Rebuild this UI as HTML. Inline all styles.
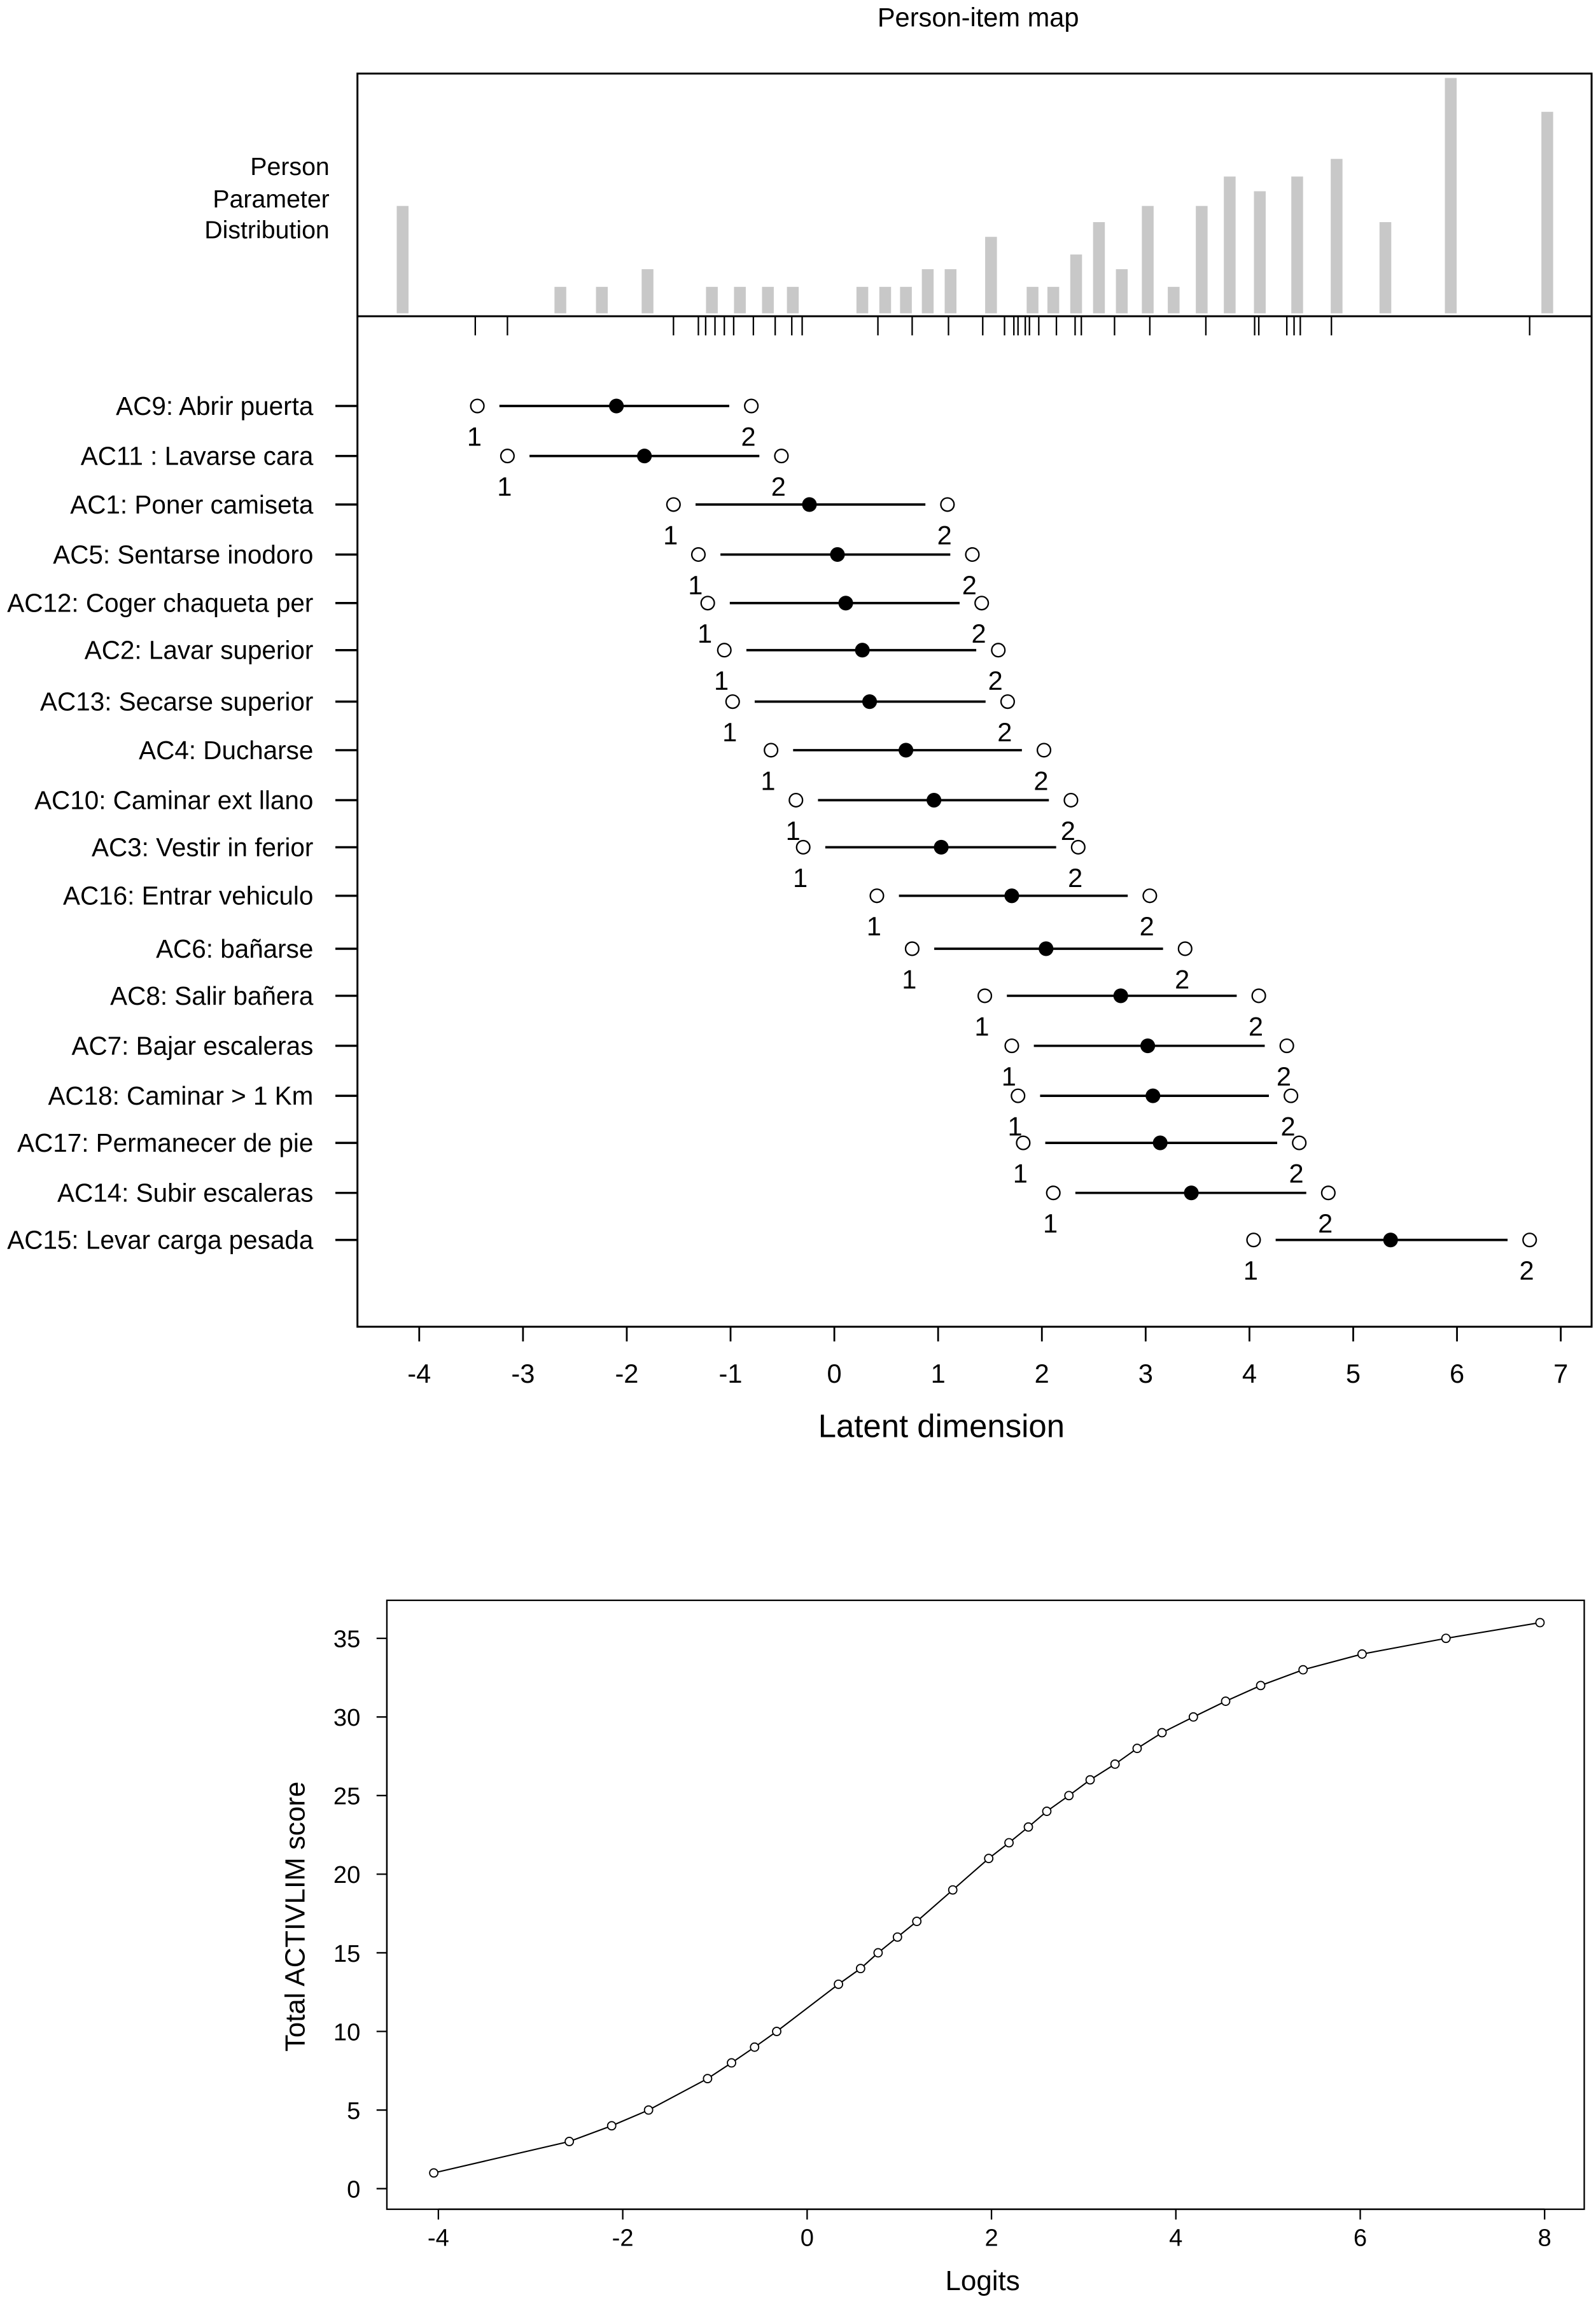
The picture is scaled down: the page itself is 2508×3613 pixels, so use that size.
<!DOCTYPE html>
<html><head><meta charset="utf-8">
<style>html,body{margin:0;padding:0;background:#fff}svg{display:block}text{font-family:"Liberation Sans",sans-serif;fill:#000}</style>
</head><body>
<svg id="fig" xmlns="http://www.w3.org/2000/svg" width="2508" height="3613" viewBox="0 0 1085 1563">
<rect x="0" y="0" width="1085" height="1563" fill="#fff"/>
<text x="665" y="18" font-size="18" text-anchor="middle">Person-item map</text>
<rect x="243" y="50" width="839" height="852" fill="none" stroke="#000" stroke-width="1.3"/>
<line x1="243" y1="215" x2="1082" y2="215" stroke="#000" stroke-width="1.3"/>
<text font-size="17" text-anchor="end"><tspan x="224" y="119">Person</tspan><tspan x="224" y="141">Parameter</tspan><tspan x="224" y="162">Distribution</tspan></text>
<g id="hist"></g><g id="rug"></g><g id="items"></g><g id="xaxis"></g>
<text x="640" y="977" font-size="22" text-anchor="middle">Latent dimension</text>

<rect x="263" y="1088" width="814" height="414" fill="none" stroke="#000" stroke-width="1"/>
<g id="curve"></g><g id="axes2"></g>
<text transform="translate(207,1303) rotate(-90)" font-size="19" text-anchor="middle">Total ACTIVLIM score</text>
<text x="668" y="1557" font-size="19" text-anchor="middle">Logits</text>
</svg>
<script>
const histLogits=[-4.16,-2.64,-2.24,-1.80,-1.18,-0.91,-0.64,-0.40,0.27,0.49,0.69,0.90,1.12,1.51,1.91,2.11,2.33,2.55,2.77,3.02,3.27,3.54,3.81,4.10,4.46,4.84,5.31,5.94,6.87];
const histFreq=[7.3,1.8,1.8,3.0,1.8,1.8,1.8,1.8,1.8,1.8,1.8,3.0,3.0,5.2,1.8,1.8,4.0,6.2,3.0,7.3,1.8,7.3,9.3,8.3,9.3,10.5,6.2,16.0,13.7];
const rugLogits=[-3.46,-3.15,-1.55,-1.31,-1.24,-1.15,-1.06,-0.97,-0.78,-0.57,-0.41,-0.31,0.42,0.75,1.10,1.43,1.64,1.73,1.77,1.84,1.88,1.97,2.14,2.32,2.38,2.70,3.04,3.58,4.05,4.09,4.36,4.43,4.49,4.79,6.70];
const itemNames=["AC9: Abrir puerta","AC11 : Lavarse cara","AC1: Poner camiseta","AC5: Sentarse inodoro","AC12: Coger chaqueta per","AC2: Lavar superior","AC13: Secarse superior","AC4: Ducharse","AC10: Caminar ext llano","AC3: Vestir in ferior","AC16: Entrar vehiculo","AC6: bañarse","AC8: Salir bañera","AC7: Bajar escaleras","AC18: Caminar > 1 Km","AC17: Permanecer de pie","AC14: Subir escaleras","AC15: Levar carga pesada"];
const threshold1=[-3.44,-3.15,-1.55,-1.31,-1.22,-1.06,-0.98,-0.61,-0.37,-0.30,0.41,0.75,1.45,1.71,1.77,1.82,2.11,4.04];
const itemLocation=[-2.10,-1.83,-0.24,0.03,0.11,0.27,0.34,0.69,0.96,1.03,1.71,2.04,2.76,3.02,3.07,3.14,3.44,5.36];
const threshold2=[-0.80,-0.51,1.09,1.33,1.42,1.58,1.67,2.02,2.28,2.35,3.04,3.38,4.09,4.36,4.40,4.48,4.76,6.70];
const xTicks=[-4,-3,-2,-1,0,1,2,3,4,5,6,7];
const logits=[-4.05,-2.58,-2.12,-1.72,-1.08,-0.82,-0.57,-0.33,0.34,0.58,0.77,0.98,1.19,1.58,1.97,2.19,2.40,2.60,2.84,3.07,3.34,3.58,3.85,4.19,4.54,4.92,5.38,6.02,6.93,7.95];
const scores=[1,3,4,5,7,8,9,10,13,14,15,16,17,19,21,22,23,24,25,26,27,28,29,30,31,32,33,34,35,36];
const x2Ticks=[-4,-2,0,2,4,6,8];
const y2Ticks=[0,5,10,15,20,25,30,35];

const NS="http://www.w3.org/2000/svg";
function mk(tag,attrs,parent,txt){const e=document.createElementNS(NS,tag);for(const k in attrs)e.setAttribute(k,attrs[k]);if(txt!==undefined)e.textContent=txt;parent.appendChild(e);return e;}
const X=v=>567.2+v*70.55;
const HY=f=>213-f*10;
const rowY=[276,310,343,377,410,442,477,510,544,576,609,645,677,711,745,777,811,843];
const g=id=>document.getElementById(id);

histLogits.forEach((v,i)=>{const h=213-HY(histFreq[i]);
 const r=mk('rect',{x:X(v)-4,y:HY(histFreq[i]),width:8,height:h,fill:'#c8c8c8'},g('hist'));
 
 });
rugLogits.forEach(v=>{const l=mk('line',{x1:X(v),y1:215,x2:X(v),y2:228,stroke:'#000','stroke-width':1},g('rug'));
 
 });
itemNames.forEach((n,i)=>{const y=rowY[i],G=g('items');
 const t=mk('text',{x:213,y:y+6,'font-size':17.5,'text-anchor':'end'},G,n);
 
 
 mk('line',{x1:228,y1:y,x2:243,y2:y,stroke:'#000','stroke-width':1.5},G);
 const a=X(threshold1[i]),b=X(threshold2[i]),m=X(itemLocation[i]);
 const ln=mk('line',{x1:a+15,y1:y,x2:b-15,y2:y,stroke:'#000','stroke-width':1.6},G);
 
 
 const c1=mk('circle',{cx:a,cy:y,r:4.5,fill:'#fff',stroke:'#000','stroke-width':1},G);
 
 
 const c2=mk('circle',{cx:b,cy:y,r:4.5,fill:'#fff',stroke:'#000','stroke-width':1},G);
 
 
 const cm=mk('circle',{cx:m,cy:y,r:5,fill:'#000'},G);
 
 
 mk('text',{x:a-2,y:y+27,'font-size':18,'text-anchor':'middle'},G,'1');
 mk('text',{x:b-2,y:y+27,'font-size':18,'text-anchor':'middle'},G,'2');
});
xTicks.forEach(v=>{const G=g('xaxis');
 mk('line',{x1:X(v),y1:902,x2:X(v),y2:912,stroke:'#000','stroke-width':1.2},G);
 const t=mk('text',{x:X(v),y:940,'font-size':18,'text-anchor':'middle'},G,String(v));
 
 });

const X2=v=>548.7+v*62.67, Y2=v=>1488-v*10.69;
const A=g('axes2');
mk('line',{x1:X2(-4),y1:1502,x2:X2(8),y2:1502,stroke:'#000','stroke-width':1},A);
x2Ticks.forEach(v=>{mk('line',{x1:X2(v),y1:1502,x2:X2(v),y2:1509,stroke:'#000','stroke-width':1},A);
 const t=mk('text',{x:X2(v),y:1527,'font-size':16.5,'text-anchor':'middle'},A,String(v));
 
 });
mk('line',{x1:263,y1:Y2(0),x2:263,y2:Y2(35),stroke:'#000','stroke-width':1},A);
y2Ticks.forEach(v=>{mk('line',{x1:256,y1:Y2(v),x2:263,y2:Y2(v),stroke:'#000','stroke-width':1},A);
 const t=mk('text',{x:245,y:Y2(v)+6,'font-size':16.5,'text-anchor':'end'},A,String(v));
 
 });
const C=g('curve');
const pl=mk('polyline',{points:logits.map((v,i)=>X2(v)+','+Y2(scores[i])).join(' '),fill:'none',stroke:'#000','stroke-width':0.9},C);


logits.forEach((v,i)=>{const c=mk('circle',{cx:X2(v),cy:Y2(scores[i]),r:2.8,fill:'#fff',stroke:'#000','stroke-width':0.8},C);
 
 });
</script>
</body></html>
